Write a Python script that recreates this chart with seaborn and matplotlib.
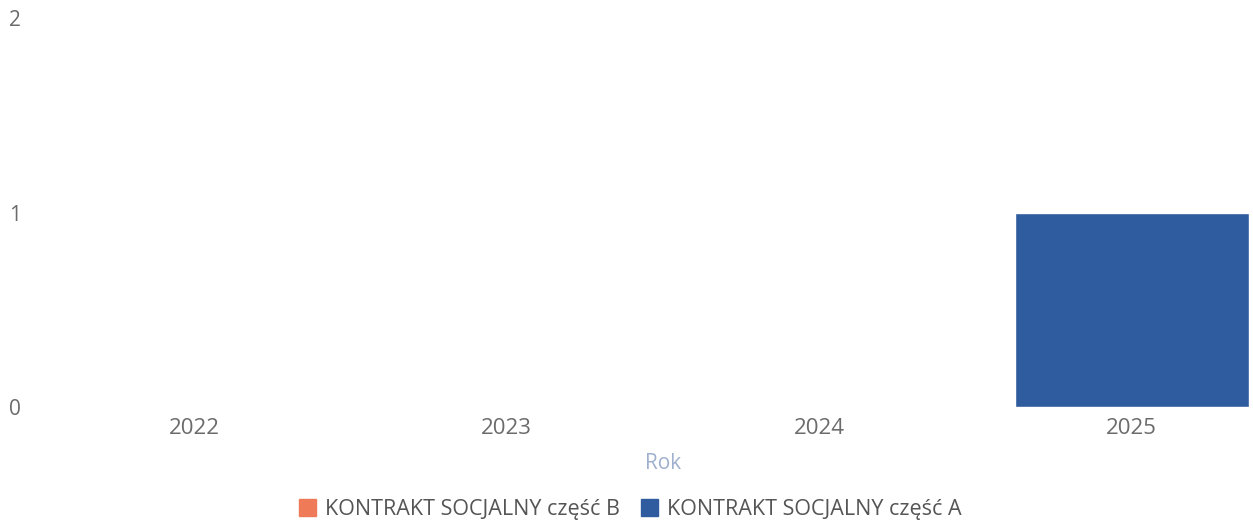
import matplotlib
matplotlib.use("Agg")
import matplotlib.pyplot as plt
import seaborn as sns
import pandas as pd

# dane
lata = ["2022", "2023", "2024", "2025"]
czesc_b = [0, 0, 0, 0]
czesc_a = [0, 0, 0, 1]
serie = ["KONTRAKT SOCJALNY część B", "KONTRAKT SOCJALNY część A"]
kolory = {serie[0]: "#ee7a58", serie[1]: "#2f5c9f"}

df = pd.DataFrame({
    "Rok": lata * 2,
    "Wartosc": czesc_b + czesc_a,
    "Seria": [serie[0]] * len(lata) + [serie[1]] * len(lata),
})

sns.set_style("white")
plt.rcParams['font.family'] = ['Open Sans', 'DejaVu Sans']

fig = plt.figure(figsize=(12.53, 5.26), dpi=100)
ax = fig.add_axes([0.0303, 0.2262, 0.9976, 0.7396])

sns.barplot(data=df, x="Rok", y="Wartosc", hue="Seria", hue_order=serie,
            palette=kolory, dodge=False, width=0.75, saturation=1,
            ax=ax, legend=False)

ax.set_ylim(0, 2)
ax.set_yticks([0, 1, 2])
ax.set_xlim(-0.5, 3.5)
for s in ax.spines.values():
    s.set_visible(False)
ax.tick_params(axis='both', length=0, colors="#6b6b6b")
ax.tick_params(axis='y', pad=12, labelsize=15)
ax.tick_params(axis='x', pad=8, labelsize=16)
ax.set_ylabel("")
ax.set_xlabel("Rok", color="#9fb0cf", fontsize=15, labelpad=10)

uchwyty = [plt.Rectangle((0, 0), 1, 1, color=kolory[s]) for s in serie]
fig.legend(uchwyty, serie, loc="lower center", ncol=2, frameon=False,
           bbox_to_anchor=(0.503, -0.025), fontsize=15.5, handlelength=0.8,
           handleheight=0.8, handletextpad=0.4, columnspacing=1.0,
           labelcolor="#555555")

fig.savefig("out.png", dpi=100)
